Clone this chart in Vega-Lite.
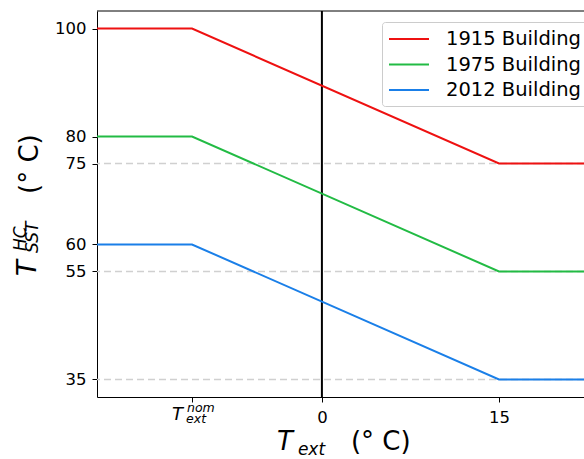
{
  "$schema": "https://vega.github.io/schema/vega-lite/v6.json",
  "width": 487,
  "height": 386,
  "autosize": {"type": "none"},
  "padding": {"left": 97, "top": 11, "right": 0, "bottom": 62},
  "background": "white",
  "config": {
    "font": "DejaVu Sans",
    "view": {"stroke": null},
    "axis": {
      "grid": false,
      "domainColor": "black",
      "domainWidth": 1,
      "tickColor": "black",
      "tickWidth": 1,
      "tickSize": 5,
      "labelFont": "DejaVu Sans",
      "labelFontSize": 16.5,
      "labelColor": "black",
      "title": null
    }
  },
  "datasets": {
    "curves": [
      {"building": "1915 Building", "t": -20, "temp": 100},
      {"building": "1915 Building", "t": -11, "temp": 100},
      {"building": "1915 Building", "t": 15, "temp": 75},
      {"building": "1915 Building", "t": 25, "temp": 75},
      {"building": "1975 Building", "t": -20, "temp": 80},
      {"building": "1975 Building", "t": -11, "temp": 80},
      {"building": "1975 Building", "t": 15, "temp": 55},
      {"building": "1975 Building", "t": 25, "temp": 55},
      {"building": "2012 Building", "t": -20, "temp": 60},
      {"building": "2012 Building", "t": -11, "temp": 60},
      {"building": "2012 Building", "t": 15, "temp": 35},
      {"building": "2012 Building", "t": 25, "temp": 35}
    ],
    "levels": [{"level": 75}, {"level": 55}, {"level": 35}]
  },
  "layer": [
    {
      "data": {"name": "levels"},
      "mark": {"type": "rule", "color": "#d0d0d0", "strokeWidth": 1.5, "strokeDash": [7, 4]},
      "encoding": {
        "y": {"field": "level", "type": "quantitative"}
      }
    },
    {
      "data": {"values": [{}]},
      "mark": {"type": "rule", "color": "black", "strokeWidth": 2},
      "encoding": {"x": {"datum": 0, "type": "quantitative"}}
    },
    {
      "data": {"values": [{}]},
      "mark": {"type": "rule", "color": "black", "strokeWidth": 1},
      "encoding": {"y": {"datum": 103.25, "type": "quantitative"}}
    },
    {
      "data": {"name": "curves"},
      "mark": {"type": "line", "strokeWidth": 2, "clip": true},
      "encoding": {
        "x": {
          "field": "t",
          "type": "quantitative",
          "scale": {"domain": [-19.05, 22.2], "nice": false, "zero": false},
          "axis": {"values": [-11, 0, 15], "labelExpr": "datum.value == -11 ? '' : datum.label", "labelPadding": 7}
        },
        "y": {
          "field": "temp",
          "type": "quantitative",
          "scale": {"domain": [31.75, 103.25], "nice": false, "zero": false},
          "axis": {"values": [35, 55, 60, 75, 80, 100], "labelPadding": 6}
        },
        "color": {
          "field": "building",
          "type": "nominal",
          "scale": {
            "domain": ["1915 Building", "1975 Building", "2012 Building"],
            "range": ["#ee1111", "#22bb44", "#1a7fe8"]
          },
          "legend": {
            "title": null,
            "orient": "none",
            "legendX": 285,
            "legendY": 11,
            "symbolType": "M-1,0L3,0",
            "symbolSize": 400,
            "symbolStrokeWidth": 2,
            "labelFont": "DejaVu Sans",
            "labelFontSize": 19.5,
            "labelColor": "black",
            "labelOffset": 36,
            "labelLimit": 400,
            "labelExpr": "datum.label + '   '",
            "padding": 6,
            "rowPadding": 4.5,
            "fillColor": "white",
            "strokeColor": "#cccccc",
            "cornerRadius": 3
          }
        }
      }
    },
    {
      "data": {"values": [{}]},
      "mark": {"type": "text", "text": "T", "font": "DejaVu Sans", "fontSize": 26, "fontStyle": "italic", "angle": 270, "align": "left", "baseline": "alphabetic", "dx": 121, "dy": -61},
      "encoding": {"x": {"datum": -19.05, "type": "quantitative"}, "y": {"datum": 31.75, "type": "quantitative"}}
    },
    {
      "data": {"values": [{}]},
      "mark": {"type": "text", "text": "HC", "font": "DejaVu Sans", "fontSize": 17, "fontStyle": "italic", "angle": 270, "align": "left", "baseline": "alphabetic", "dx": 146, "dy": -71},
      "encoding": {"x": {"datum": -19.05, "type": "quantitative"}, "y": {"datum": 31.75, "type": "quantitative"}}
    },
    {
      "data": {"values": [{}]},
      "mark": {"type": "text", "text": "SST", "font": "DejaVu Sans", "fontSize": 17, "fontStyle": "italic", "angle": 270, "align": "left", "baseline": "alphabetic", "dx": 144, "dy": -59},
      "encoding": {"x": {"datum": -19.05, "type": "quantitative"}, "y": {"datum": 31.75, "type": "quantitative"}}
    },
    {
      "data": {"values": [{}]},
      "mark": {"type": "text", "text": "(° C)", "font": "DejaVu Sans", "fontSize": 26, "angle": 270, "align": "left", "baseline": "alphabetic", "dx": 203, "dy": -59},
      "encoding": {"x": {"datum": -19.05, "type": "quantitative"}, "y": {"datum": 31.75, "type": "quantitative"}}
    },
    {
      "data": {"values": [{}]},
      "mark": {"type": "text", "text": "T", "font": "DejaVu Sans", "fontSize": 26, "fontStyle": "italic", "align": "left", "baseline": "alphabetic", "dx": -45, "dy": 53},
      "encoding": {"x": {"datum": 0, "type": "quantitative"}, "y": {"datum": 31.75, "type": "quantitative"}}
    },
    {
      "data": {"values": [{}]},
      "mark": {"type": "text", "text": "ext", "font": "DejaVu Sans", "fontSize": 17, "fontStyle": "italic", "align": "left", "baseline": "alphabetic", "dx": -24, "dy": 58},
      "encoding": {"x": {"datum": 0, "type": "quantitative"}, "y": {"datum": 31.75, "type": "quantitative"}}
    },
    {
      "data": {"values": [{}]},
      "mark": {"type": "text", "text": "(° C)", "font": "DejaVu Sans", "fontSize": 26, "align": "left", "baseline": "alphabetic", "dx": 29, "dy": 53},
      "encoding": {"x": {"datum": 0, "type": "quantitative"}, "y": {"datum": 31.75, "type": "quantitative"}}
    },
    {
      "data": {"values": [{}]},
      "mark": {"type": "text", "text": "T", "font": "DejaVu Sans", "fontSize": 18, "fontStyle": "italic", "align": "left", "baseline": "alphabetic", "dx": -20, "dy": 23},
      "encoding": {"x": {"datum": -11, "type": "quantitative"}, "y": {"datum": 31.75, "type": "quantitative"}}
    },
    {
      "data": {"values": [{}]},
      "mark": {"type": "text", "text": "nom", "font": "DejaVu Sans", "fontSize": 12.5, "fontStyle": "italic", "align": "left", "baseline": "alphabetic", "dx": -5, "dy": 15},
      "encoding": {"x": {"datum": -11, "type": "quantitative"}, "y": {"datum": 31.75, "type": "quantitative"}}
    },
    {
      "data": {"values": [{}]},
      "mark": {"type": "text", "text": "ext", "font": "DejaVu Sans", "fontSize": 12.5, "fontStyle": "italic", "align": "left", "baseline": "alphabetic", "dx": -6, "dy": 26},
      "encoding": {"x": {"datum": -11, "type": "quantitative"}, "y": {"datum": 31.75, "type": "quantitative"}}
    }
  ]
}
